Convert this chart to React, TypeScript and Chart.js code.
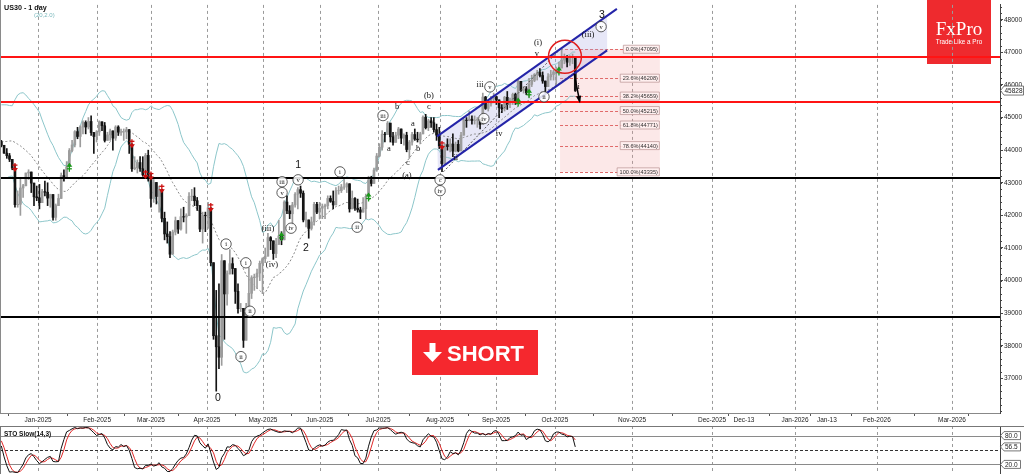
import React, { useEffect, useRef } from "react";
import { Chart, registerables } from "chart.js";
Chart.register(...registerables);

const SANS = "'Liberation Sans', Arial, sans-serif";
const SERIF = "'Liberation Serif', 'Times New Roman', serif";

// ---- history (for indicator warm-up, not drawn) ----
const histCloses = [43958, 43750, 43445, 43390, 43268, 43408, 43870, 44297, 44736, 44860, 44722, 44911, 44782, 44705, 45014, 44766, 44642, 44401, 44248];
const histHighs = [44100, 43950, 43750, 43550, 43300, 43450, 43950, 44350, 44850, 44880, 44950, 44950, 44950, 44800, 45070, 45000, 44800, 44700, 44450];
const histLows = [43800, 43700, 43350, 43250, 42900, 42950, 43400, 43900, 44300, 44600, 44700, 44700, 44700, 44500, 44700, 44700, 44550, 44350, 44200];

// ---- daily bars, Dec 11 2024 .. Oct 10 2025 ----
const closes = [
  44150, 43910, 43830, 43720, 43450, 42330, 42340, 42840, 42910, 43300, 43330, 42990, 42570, 42540,
  42390, 42730, 42710, 42530, 42640, 41940, 42300, 42520, 43220, 43150, 43490, 43990, 44160, 44570, 44420, 44710, 44850, 44710, 44880, 44540,
  44420, 44560, 44870, 44750, 44300, 44470, 44590, 44370, 44710, 44550, 44560, 44560, 44630, 44180, 43430, 43460, 43620, 43430, 43240, 43840,
  43190, 42520, 43010, 42580, 42800, 41910, 41430, 41350, 40810, 41490, 41840, 41580, 41960, 41950, 41990, 42580, 42590, 42450, 42300, 41580, 42000,
  41990, 42230, 40550, 38310, 37970, 37650, 40610, 39590, 40210, 40520, 40370, 39670, 39140, 39150, 38170, 39190, 39610, 40090, 40110, 40230, 40530, 40670,
  40750, 41320, 41220, 40830, 41110, 41370, 41250, 42410, 42140, 42050, 42320, 42650, 42790, 42680, 41860, 41860, 41600, 41800, 42340, 42100, 42220, 42270,
  42300, 42520, 42430, 42320, 42760, 42760, 42870, 42870, 42970, 42200, 42520, 42220, 42170, 42100, 42210, 42580, 43090, 42980, 43390, 43820, 44090,
  44490, 44480, 44830, 44410, 44240, 44460, 44650, 44370, 44460, 44020, 44250, 44480, 44340, 44320, 44500, 45010, 44690, 44900, 44840, 44630, 44460, 44130,
  43590, 44170, 44110, 44190, 43970, 44180, 43980, 44460, 44920, 44910, 44950, 44910, 44920, 44940, 44790, 45630, 45280, 45420, 45570, 45640, 45540,
  45300, 45270, 45620, 45400, 45510, 45710, 45490, 46110, 45830, 45880, 45760, 46020, 46140, 46320, 46380, 46290, 46120, 45950, 46250, 46320, 46400,
  46440, 46520, 46760, 46850, 46700, 46850, 46850, 45828,
];
const highs = [
  44300, 44150, 44050, 43900, 43700, 43550, 42750, 43150, 42950, 43300, 43400, 43250, 42850, 42900,
  42950, 42800, 43050, 43000, 42650, 42550, 42350, 42650, 43300, 43400, 43650, 44050, 44300, 44600, 44700, 44750, 44900, 44900, 45000, 45050,
  44550, 44600, 44900, 44850, 44850, 44550, 44650, 44500, 44750, 44750, 44650, 44650, 44700, 44600, 44200, 43800, 43700, 43800, 43800, 43900,
  44000, 43300, 43100, 42950, 42900, 42700, 42100, 41800, 41500, 41550, 41950, 41800, 42200, 42250, 42050, 42700, 42800, 42850, 42550, 42300, 42100,
  42100, 42400, 41500, 40400, 39700, 39900, 40800, 40500, 40300, 40950, 40700, 40300, 39900, 39300, 39100, 39300, 40400, 40150, 40200, 40350, 40600, 40700,
  41000, 41450, 41350, 41100, 41300, 41850, 41500, 42450, 42600, 42300, 42400, 42700, 42850, 42900, 42750, 42100, 41800, 41950, 42400, 42400, 42400, 42350,
  42350, 42600, 42600, 42750, 42850, 42900, 42950, 43100, 43000, 42700, 42750, 42550, 42500, 42250, 42550, 42650, 43200, 43200, 43450, 43900, 44200,
  44600, 44550, 44880, 44800, 44550, 44550, 44700, 44550, 44500, 44550, 44300, 44550, 44650, 44550, 44550, 45050, 45100, 44950, 45000, 45000, 44800, 44700,
  44000, 44200, 44350, 44350, 44500, 44250, 44300, 44550, 44950, 45000, 45200, 45050, 45050, 45000, 44950, 45750, 45650, 45450, 45650, 45750, 45650,
  45500, 45400, 45650, 45800, 45600, 45750, 45750, 46150, 46100, 45950, 45950, 46200, 46300, 46350, 46450, 46500, 46400, 46050, 46350, 46450, 46450,
  46550, 46700, 47095, 46950, 46900, 46900, 46950, 46850,
];
const lows = [
  44100, 43900, 43750, 43650, 43400, 42250, 42250, 42000, 42550, 42900, 43100, 42700, 42300, 42450,
  42200, 42400, 42600, 42300, 42250, 41850, 41850, 42300, 42700, 43050, 43300, 43500, 43950, 44100, 44350, 44100, 44500, 44500, 44650, 44450,
  43900, 44250, 44450, 44600, 44250, 44300, 44300, 44000, 44300, 44450, 44450, 44300, 44350, 43900, 43350, 43400, 43300, 43350, 43200, 43150,
  43050, 42250, 42400, 42350, 42100, 41800, 41250, 41150, 40700, 40900, 41400, 41450, 41550, 41800, 41450, 42150, 42450, 42300, 42150, 41500, 41150,
  41500, 41600, 40450, 38200, 36610, 37300, 37400, 38200, 39250, 40200, 40200, 39300, 39000, 39050, 37950, 38300, 39400, 39450, 39700, 39750, 40000, 39600,
  40550, 40900, 40950, 40650, 40700, 41150, 41100, 41600, 42050, 41900, 41700, 42250, 42200, 42550, 41800, 41650, 41300, 41550, 41700, 42050, 41900, 41900,
  41900, 42200, 42400, 42200, 42400, 42650, 42700, 42800, 42700, 42100, 42300, 42150, 42100, 41900, 42100, 41900, 42800, 42900, 43050, 43350, 43800,
  44000, 44250, 44550, 44250, 44150, 44250, 44350, 44200, 44150, 43950, 43750, 44150, 44300, 44250, 44200, 44550, 44650, 44600, 44700, 44550, 44300, 44050,
  43340, 43650, 44000, 43950, 43800, 43950, 43950, 44000, 44500, 44700, 44900, 44800, 44800, 44700, 44650, 44800, 45250, 45200, 45350, 45450, 45400,
  45000, 45150, 45200, 45250, 45300, 45400, 45400, 45500, 45800, 45750, 45700, 45600, 45950, 46100, 46150, 46250, 46050, 45750, 45950, 46150, 46150,
  46000, 46350, 46550, 46650, 46550, 46600, 46650, 45800,
];

// ---- x axis (bar index units) ----
const X_MIN = -0.5;
const X_MAX = 367.15;
const tickIdx = [13.5, 35.2, 55.0, 75.6, 96.2, 117.1, 138.5, 161.3, 181.9, 203.5, 231.9, 261.3, 273.0, 291.8, 303.5, 321.9, 349.5, 361.5];
const tickLabels = ["Jan-2025", "Feb-2025", "Mar-2025", "Apr-2025", "May-2025", "Jun-2025", "Jul-2025", "Aug-2025", "Sep-2025", "Oct-2025", "Nov-2025", "Dec-2025", "Dec-13", "Jan-2026", "Jan-13", "Feb-2026", "Mar-2026", ""];
const tickIsMonth = [true, true, true, true, true, true, true, true, true, true, true, true, false, true, false, true, true, false];

// ---- y axis ----
const Y_MIN = 35940;
const Y_MAX = 48455;
const priceTicks = [37000, 38000, 39000, 40000, 41000, 42000, 43000, 44000, 45000, 46000, 47000, 48000];

// ---- annotations ----
const levelPrices = [46850, 45480, 43150, 38880];
const levelColors = ["#ff1414", "#ff1414", "#000000", "#000000"];
const fibPct = [0, 23.6, 38.2, 50, 61.8, 78.6, 100];
const fibPrices = [47095, 46208, 45659, 45215, 44771, 44140, 43335];
const fibFrom = 205.4;
const fibTo = 242.1;
const channelUpper = [[160.2, 44425], [226.3, 48333]];
const channelLower = [[160.5, 43394], [222.7, 47061]];
const fibBase = [[162.5, 43335], [205.4, 47095]];
const redSignals = [5, 48, 53, 55, 59, 77, 162];
const greenSignals = [25, 103, 135, 190, 194, 205];
const circleAt = [207.2, 46864];
const dropArrow = [[210.6, 46350], [212.6, 45500]];
// [text, index, price, style] style 0 plain serif, 1 circled, 2 large sans
const waveLabels: [string, number, number, number][] = [
  ["0", 79.6, 36395, 2], ["1", 109.1, 43530, 2], ["2", 112.0, 41000, 2], ["3", 220.8, 48152, 2],
  ["i", 82.6, 41122, 1], ["ii", 88.1, 37668, 1], ["i", 89.9, 40546, 1], ["ii", 91.4, 39061, 1],
  ["(iii)", 98.0, 41576, 0], ["(iv)", 99.5, 40486, 0], ["iii", 103.2, 43031, 1], ["v", 103.2, 42697, 1],
  ["iv", 106.5, 41607, 1], ["v", 109.1, 43091, 1], ["i", 124.5, 43334, 1], ["ii", 130.8, 41637, 1],
  ["iii", 140.3, 45061, 1], ["a", 142.5, 44031, 0], ["b", 145.5, 45334, 0], ["c", 149.5, 43606, 0],
  ["a", 151.3, 44818, 0], ["b", 153.2, 44031, 0], ["c", 157.2, 45334, 0], ["(b)", 157.2, 45667, 0],
  ["(a)", 149.1, 43213, 0], ["c", 161.3, 43091, 1], ["iv", 161.3, 42758, 1], ["ii", 167.1, 43758, 0],
  ["iii", 176.0, 46000, 0], ["v", 179.6, 45940, 1], ["iv", 177.4, 44970, 1], ["iv", 183.0, 44516, 0],
  ["(i)", 197.3, 47303, 0], ["v", 196.9, 46970, 0], ["ii", 199.5, 45637, 1], ["(iii)", 215.7, 47545, 0],
  ["v", 220.5, 47788, 1], ["ii", 211.8, 45930, 0],
];

// ---- indicator helpers ----
const allC = histCloses.concat(closes);
const allH = histHighs.concat(highs);
const allL = histLows.concat(lows);
const OFF = histCloses.length;

function bollinger(period: number, dev: number) {
  const up: number[] = [], mid: number[] = [], lo: number[] = [];
  for (let i = 0; i < closes.length; i++) {
    const j = i + OFF;
    const w = allC.slice(j - period + 1, j + 1);
    const m = w.reduce((a, b) => a + b, 0) / w.length;
    const sd = Math.sqrt(w.reduce((a, b) => a + (b - m) * (b - m), 0) / w.length);
    mid.push(m); up.push(m + dev * sd); lo.push(m - dev * sd);
  }
  return { up, mid, lo };
}

function stochastic(kLen: number, slow: number, dLen: number) {
  const n = allC.length;
  const fast: (number | null)[] = new Array(n).fill(null);
  for (let j = kLen - 1; j < n; j++) {
    let hh = -Infinity, ll = Infinity;
    for (let k = j - kLen + 1; k <= j; k++) { hh = Math.max(hh, allH[k]); ll = Math.min(ll, allL[k]); }
    fast[j] = hh === ll ? 50 : (100 * (allC[j] - ll)) / (hh - ll);
  }
  const sma = (arr: (number | null)[], len: number) => arr.map((_, j) => {
    if (j < len - 1) return null;
    let s = 0;
    for (let k = j - len + 1; k <= j; k++) { const v = arr[k]; if (v === null) return null; s += v; }
    return s / len;
  });
  const K = sma(fast, slow);
  const D = sma(K, dLen);
  return { K: K.slice(OFF) as number[], D: D.slice(OFF) as number[] };
}

export default function App() {
  const mainRef = useRef<HTMLCanvasElement>(null);
  const stoRef = useRef<HTMLCanvasElement>(null);

  useEffect(() => {
    if (!mainRef.current || !stoRef.current) return;
    Chart.defaults.font.family = SANS;
    const opens = closes.map((c, i) => (i === 0 ? histCloses[histCloses.length - 1] : closes[i - 1]));
    const colors = closes.map((c, i) => (c >= opens[i] ? "#9c9c9c" : "#141414"));
    const wicks = closes.map((c, i) => ({ x: i, y: [Math.min(lows[i], opens[i], c), Math.max(highs[i], opens[i], c)] }));
    const bodies = closes.map((c, i) => ({ x: i, y: [opens[i], c] }));
    const bb = bollinger(20, 2);
    const st = stochastic(14, 3, 3);

    const vGrid = (chart: any, top: number, bottom: number) => {
      const ctx = chart.ctx; const xs = chart.scales.x;
      ctx.save(); ctx.strokeStyle = "#9a9a9a"; ctx.lineWidth = 1; ctx.setLineDash([3, 3]);
      tickIdx.forEach((v, k) => {
        if (!tickIsMonth[k]) return;
        const x = Math.round(xs.getPixelForValue(v)) + 0.5;
        ctx.beginPath(); ctx.moveTo(x, top); ctx.lineTo(x, bottom); ctx.stroke();
      });
      ctx.restore();
    };

    const mainPlugin = {
      id: "mainAnno",
      beforeDraw(chart: any) {
        const ctx = chart.ctx;
        ctx.save();
        ctx.fillStyle = "#ee2a2e";
        ctx.fillRect(927, 0, 64, 64);
        ctx.fillStyle = "#fff"; ctx.textAlign = "center"; ctx.textBaseline = "alphabetic";
        ctx.font = `19px ${SERIF}`; ctx.fillText("FxPro", 959, 35);
        ctx.font = `6.3px ${SANS}`; ctx.fillText("Trade Like a Pro", 959, 44);
        ctx.restore();
      },
      beforeDatasetsDraw(chart: any) {
        const ctx = chart.ctx; const xs = chart.scales.x; const ys = chart.scales.y; const a = chart.chartArea;
        const X = (v: number) => xs.getPixelForValue(v); const Y = (v: number) => ys.getPixelForValue(v);
        vGrid(chart, a.top, a.bottom);
        ctx.save();
        ctx.fillStyle = "rgba(240,150,150,0.22)";
        ctx.fillRect(X(fibFrom), Y(fibPrices[0]), X(fibTo) - X(fibFrom), Y(fibPrices[6]) - Y(fibPrices[0]));
        ctx.strokeStyle = "#e06a6a"; ctx.lineWidth = 1; ctx.setLineDash([3, 2]);
        fibPrices.forEach((p) => {
          const y = Math.round(Y(p)) + 0.5;
          ctx.beginPath(); ctx.moveTo(X(fibFrom), y); ctx.lineTo(X(fibTo), y); ctx.stroke();
        });
        ctx.setLineDash([]);
        const interp = (seg: number[][], x: number) => seg[0][1] + ((x - seg[0][0]) / (seg[1][0] - seg[0][0])) * (seg[1][1] - seg[0][1]);
        const rx = channelLower[1][0];
        ctx.fillStyle = "rgba(170,170,225,0.28)";
        ctx.beginPath();
        ctx.moveTo(X(channelUpper[0][0]), Y(channelUpper[0][1]));
        ctx.lineTo(X(rx), Y(interp(channelUpper, rx)));
        ctx.lineTo(X(rx), Y(channelLower[1][1]));
        ctx.lineTo(X(channelLower[0][0]), Y(channelLower[0][1]));
        ctx.closePath(); ctx.fill();
        ctx.restore();
      },
      afterDatasetsDraw(chart: any) {
        const ctx = chart.ctx; const xs = chart.scales.x; const ys = chart.scales.y; const a = chart.chartArea;
        const X = (v: number) => xs.getPixelForValue(v); const Y = (v: number) => ys.getPixelForValue(v);
        ctx.save();
        ctx.strokeStyle = "#555"; ctx.lineWidth = 1; ctx.setLineDash([2, 2]);
        ctx.beginPath(); ctx.moveTo(X(fibBase[0][0]), Y(fibBase[0][1])); ctx.lineTo(X(fibBase[1][0]), Y(fibBase[1][1])); ctx.stroke();
        ctx.setLineDash([]);
        ctx.strokeStyle = "#2424a8"; ctx.lineWidth = 2;
        [channelUpper, channelLower].forEach((s) => {
          ctx.beginPath(); ctx.moveTo(X(s[0][0]), Y(s[0][1])); ctx.lineTo(X(s[1][0]), Y(s[1][1])); ctx.stroke();
        });
        levelPrices.forEach((p, k) => {
          ctx.strokeStyle = levelColors[k]; ctx.lineWidth = 2;
          const y = Math.round(Y(p));
          ctx.beginPath(); ctx.moveTo(a.left, y); ctx.lineTo(a.right, y); ctx.stroke();
        });
        ctx.lineWidth = 1.3;
        redSignals.forEach((i) => {
          const x = X(i), y = Y(opens[i]);
          ctx.strokeStyle = "#cc1010"; ctx.fillStyle = "#cc1010";
          ctx.beginPath(); ctx.moveTo(x, y - 5); ctx.lineTo(x, y + 1); ctx.stroke();
          ctx.beginPath(); ctx.moveTo(x - 2.5, y - 3); ctx.lineTo(x + 2.5, y - 3); ctx.stroke();
          ctx.beginPath(); ctx.moveTo(x - 3, y); ctx.lineTo(x + 3, y); ctx.lineTo(x, y + 4); ctx.closePath(); ctx.fill();
        });
        greenSignals.forEach((i) => {
          const x = X(i), y = Y(opens[i]);
          ctx.strokeStyle = "#1a9a1a"; ctx.fillStyle = "#1a9a1a";
          ctx.beginPath(); ctx.moveTo(x, y + 5); ctx.lineTo(x, y - 1); ctx.stroke();
          ctx.beginPath(); ctx.moveTo(x - 2.5, y + 2); ctx.lineTo(x + 2.5, y + 2); ctx.stroke();
          ctx.beginPath(); ctx.moveTo(x - 3, y); ctx.lineTo(x + 3, y); ctx.lineTo(x, y - 4); ctx.closePath(); ctx.fill();
        });
        ctx.strokeStyle = "#e01e1e"; ctx.lineWidth = 1.5;
        ctx.beginPath(); ctx.arc(X(circleAt[0]), Y(circleAt[1]), 16.5, 0, Math.PI * 2); ctx.stroke();
        const ax0 = X(dropArrow[0][0]), ay0 = Y(dropArrow[0][1]), ax1 = X(dropArrow[1][0]), ay1 = Y(dropArrow[1][1]);
        ctx.strokeStyle = "#000"; ctx.fillStyle = "#000"; ctx.lineWidth = 1.5;
        ctx.beginPath(); ctx.moveTo(ax0, ay0); ctx.lineTo(ax1, ay1); ctx.stroke();
        const ang = Math.atan2(ay1 - ay0, ax1 - ax0);
        ctx.beginPath(); ctx.moveTo(ax1 + 2 * Math.cos(ang), ay1 + 2 * Math.sin(ang));
        ctx.lineTo(ax1 - 6 * Math.cos(ang - 0.45), ay1 - 6 * Math.sin(ang - 0.45));
        ctx.lineTo(ax1 - 6 * Math.cos(ang + 0.45), ay1 - 6 * Math.sin(ang + 0.45));
        ctx.closePath(); ctx.fill();
        ctx.textAlign = "center"; ctx.textBaseline = "middle";
        waveLabels.forEach(([t, i, p, s]) => {
          const x = X(i), y = Y(p);
          if (s === 2) { ctx.fillStyle = "#111"; ctx.font = `10.5px ${SANS}`; ctx.fillText(t, x, y); return; }
          if (s === 1) {
            ctx.fillStyle = "rgba(255,255,255,0.85)"; ctx.strokeStyle = "#333"; ctx.lineWidth = 0.8;
            ctx.beginPath(); ctx.arc(x, y, 5.2, 0, Math.PI * 2); ctx.fill(); ctx.stroke();
            ctx.fillStyle = "#111"; ctx.font = `6.5px ${SERIF}`; ctx.fillText(t, x, y + 0.5); return;
          }
          ctx.fillStyle = "#111"; ctx.font = `8.5px ${SERIF}`; ctx.fillText(t, x, y);
        });
        ctx.font = `5.6px ${SANS}`; ctx.textAlign = "right";
        fibPrices.forEach((p, k) => {
          const txt = `${fibPct[k].toFixed(1)}%(${p})`;
          const y = Y(p); const xr = X(fibTo) - 2; const w = ctx.measureText(txt).width;
          ctx.fillStyle = "rgba(255,240,240,0.9)"; ctx.strokeStyle = "#b89090"; ctx.lineWidth = 0.7;
          ctx.beginPath(); ctx.rect(xr - w - 2.5, y - 4, w + 4, 8); ctx.fill(); ctx.stroke();
          ctx.fillStyle = "#333"; ctx.fillText(txt, xr, y + 0.5);
        });
        ctx.fillStyle = "#f5282e"; ctx.fillRect(412, 330, 126, 45);
        ctx.fillStyle = "#fff";
        ctx.fillRect(429.5, 343, 6, 10);
        ctx.beginPath(); ctx.moveTo(423, 352); ctx.lineTo(442, 352); ctx.lineTo(432.5, 362); ctx.closePath(); ctx.fill();
        ctx.font = `bold 22px ${SANS}`; ctx.textAlign = "left"; ctx.textBaseline = "alphabetic";
        ctx.fillText("SHORT", 447, 361);
        ctx.restore();
      },
      afterDraw(chart: any) {
        const ctx = chart.ctx; const ys = chart.scales.y; const a = chart.chartArea;
        ctx.save();
        ctx.strokeStyle = "#8a8a8a"; ctx.lineWidth = 1;
        ctx.beginPath(); ctx.moveTo(0.5, 0); ctx.lineTo(0.5, a.bottom); ctx.stroke();
        ctx.strokeStyle = "#444";
        for (let v = 36000; v <= 48400; v += 200) {
          const y = Math.round(ys.getPixelForValue(v)) + 0.5;
          ctx.beginPath(); ctx.moveTo(a.right, y); ctx.lineTo(a.right + 2, y); ctx.stroke();
        }
        ctx.fillStyle = "#111"; ctx.font = `bold 7.2px ${SANS}`; ctx.textBaseline = "alphabetic"; ctx.textAlign = "left";
        ctx.fillText("US30 - 1 day", 4, 10);
        ctx.fillStyle = "#7ab8bc"; ctx.font = `6px ${SANS}`;
        ctx.fillText("(20,2.0)", 34, 17);
        const last = closes[closes.length - 1];
        const y = ys.getPixelForValue(last);
        ctx.fillStyle = "#fff"; ctx.strokeStyle = "#555"; ctx.lineWidth = 0.8;
        ctx.beginPath(); ctx.moveTo(a.right + 0.5, y); ctx.lineTo(a.right + 4, y - 4.5); ctx.lineTo(1023.5, y - 4.5);
        ctx.lineTo(1023.5, y + 4.5); ctx.lineTo(a.right + 4, y + 4.5); ctx.closePath(); ctx.fill(); ctx.stroke();
        ctx.fillStyle = "#222"; ctx.font = `6.5px ${SANS}`; ctx.textBaseline = "middle";
        ctx.fillText(String(last), a.right + 4.5, y + 0.5);
        ctx.restore();
      },
    };

    const main = new Chart(mainRef.current, {
      type: "bar",
      data: {
        datasets: [
          { type: "line", data: bb.up.map((y, i) => ({ x: i, y })), borderColor: "#8cc6ca", borderWidth: 1, pointRadius: 0, order: 5 } as any,
          { type: "line", data: bb.lo.map((y, i) => ({ x: i, y })), borderColor: "#8cc6ca", borderWidth: 1, pointRadius: 0, order: 5 } as any,
          { type: "line", data: bb.mid.map((y, i) => ({ x: i, y })), borderColor: "#8a8a8a", borderWidth: 1, borderDash: [2, 2], pointRadius: 0, order: 5 } as any,
          { type: "bar", data: wicks, backgroundColor: colors, barThickness: 1, grouped: false, order: 2 } as any,
          { type: "bar", data: bodies, backgroundColor: colors, barThickness: 2, grouped: false, order: 1 } as any,
        ],
      },
      options: {
        responsive: false,
        devicePixelRatio: 1,
        animation: false,
        layout: { padding: 0 },
        plugins: { legend: { display: false }, tooltip: { enabled: false } },
        scales: {
          x: {
            type: "linear", min: X_MIN, max: X_MAX, offset: false,
            afterBuildTicks: (s: any) => { s.ticks = tickIdx.map((v) => ({ value: v })); },
            afterFit: (s: any) => { s.height = 13; },
            ticks: { autoSkip: false, maxRotation: 0, minRotation: 0, padding: 0, color: "#222", font: { size: 6.5, family: SANS }, callback: (_v: any, i: number) => tickLabels[i] },
            grid: { drawOnChartArea: false, drawTicks: true, tickLength: 3, color: "#555" },
            border: { display: true, color: "#888" },
          },
          y: {
            type: "linear", position: "right", min: Y_MIN, max: Y_MAX,
            afterBuildTicks: (s: any) => { s.ticks = priceTicks.map((v) => ({ value: v })); },
            afterFit: (s: any) => { s.width = 24; },
            ticks: { autoSkip: false, padding: 1, color: "#222", font: { size: 6.5, family: SANS }, callback: (v: any) => String(v) },
            grid: { drawOnChartArea: false, drawTicks: true, tickLength: 3, color: "#444" },
            border: { display: true, color: "#444" },
          },
        },
      } as any,
      plugins: [mainPlugin],
    });

    const lastK = st.K[st.K.length - 1];
    const stoPlugin = {
      id: "stoAnno",
      beforeDatasetsDraw(chart: any) {
        const ctx = chart.ctx; const ys = chart.scales.y; const a = chart.chartArea;
        vGrid(chart, a.top, a.bottom);
        ctx.save();
        ctx.strokeStyle = "#8a8a8a"; ctx.lineWidth = 1;
        [80, 20].forEach((v) => { const y = Math.round(ys.getPixelForValue(v)) + 0.5; ctx.beginPath(); ctx.moveTo(a.left, y); ctx.lineTo(a.right, y); ctx.stroke(); });
        ctx.strokeStyle = "#333"; ctx.setLineDash([3, 2]);
        const y5 = Math.round(ys.getPixelForValue(50)) + 0.5; ctx.beginPath(); ctx.moveTo(a.left, y5); ctx.lineTo(a.right, y5); ctx.stroke();
        ctx.restore();
      },
      afterDraw(chart: any) {
        const ctx = chart.ctx; const ys = chart.scales.y; const a = chart.chartArea;
        ctx.save();
        ctx.strokeStyle = "#777"; ctx.lineWidth = 1;
        ctx.beginPath(); ctx.moveTo(0, 0.5); ctx.lineTo(1024, 0.5); ctx.stroke();
        ctx.beginPath(); ctx.moveTo(0.5, 0); ctx.lineTo(0.5, a.bottom); ctx.stroke();
        ctx.fillStyle = "#111"; ctx.font = `bold 6.5px ${SANS}`; ctx.textBaseline = "middle"; ctx.textAlign = "left";
        ctx.fillText("STO Slow(14,3)", 4, 8);
        const tag = (v: number, txt: string) => {
          const y = ys.getPixelForValue(v);
          ctx.fillStyle = "#fff"; ctx.strokeStyle = "#555"; ctx.lineWidth = 0.8;
          ctx.beginPath(); ctx.moveTo(a.right + 0.5, y); ctx.lineTo(a.right + 4, y - 4); ctx.lineTo(1020.5, y - 4);
          ctx.lineTo(1020.5, y + 4); ctx.lineTo(a.right + 4, y + 4); ctx.closePath(); ctx.fill(); ctx.stroke();
          ctx.fillStyle = "#222"; ctx.font = `6.5px ${SANS}`; ctx.fillText(txt, a.right + 5, y + 0.5);
        };
        tag(20, "20.0");
        tag(80, "80.0");
        tag(lastK, lastK.toFixed(1));
        ctx.restore();
      },
    };

    const sto = new Chart(stoRef.current, {
      type: "line",
      data: {
        datasets: [
          { data: st.K.map((y, i) => ({ x: i, y })), borderColor: "#111", borderWidth: 1, pointRadius: 0, order: 1 },
          { data: st.D.map((y, i) => ({ x: i, y })), borderColor: "#e02828", borderWidth: 1, pointRadius: 0, order: 2 },
        ],
      },
      options: {
        responsive: false,
        devicePixelRatio: 1,
        animation: false,
        layout: { padding: 0 },
        plugins: { legend: { display: false }, tooltip: { enabled: false } },
        scales: {
          x: { type: "linear", min: X_MIN, max: X_MAX, display: false },
          y: {
            position: "right", min: 0, max: 100,
            afterFit: (s: any) => { s.width = 24; },
            ticks: { display: false },
            grid: { display: false, drawTicks: false },
            border: { display: true, color: "#444" },
          },
        },
      } as any,
      plugins: [stoPlugin],
    });

    return () => { main.destroy(); sto.destroy(); };
  }, []);

  return (
    <div style={{ position: "absolute", left: 0, top: 0, width: 1024, height: 474, background: "#fff", overflow: "hidden" }}>
      <canvas ref={mainRef} width={1024} height={426} style={{ position: "absolute", left: 0, top: 0, width: 1024, height: 426 }} />
      <canvas ref={stoRef} width={1024} height={48} style={{ position: "absolute", left: 0, top: 426, width: 1024, height: 48 }} />
    </div>
  );
}
